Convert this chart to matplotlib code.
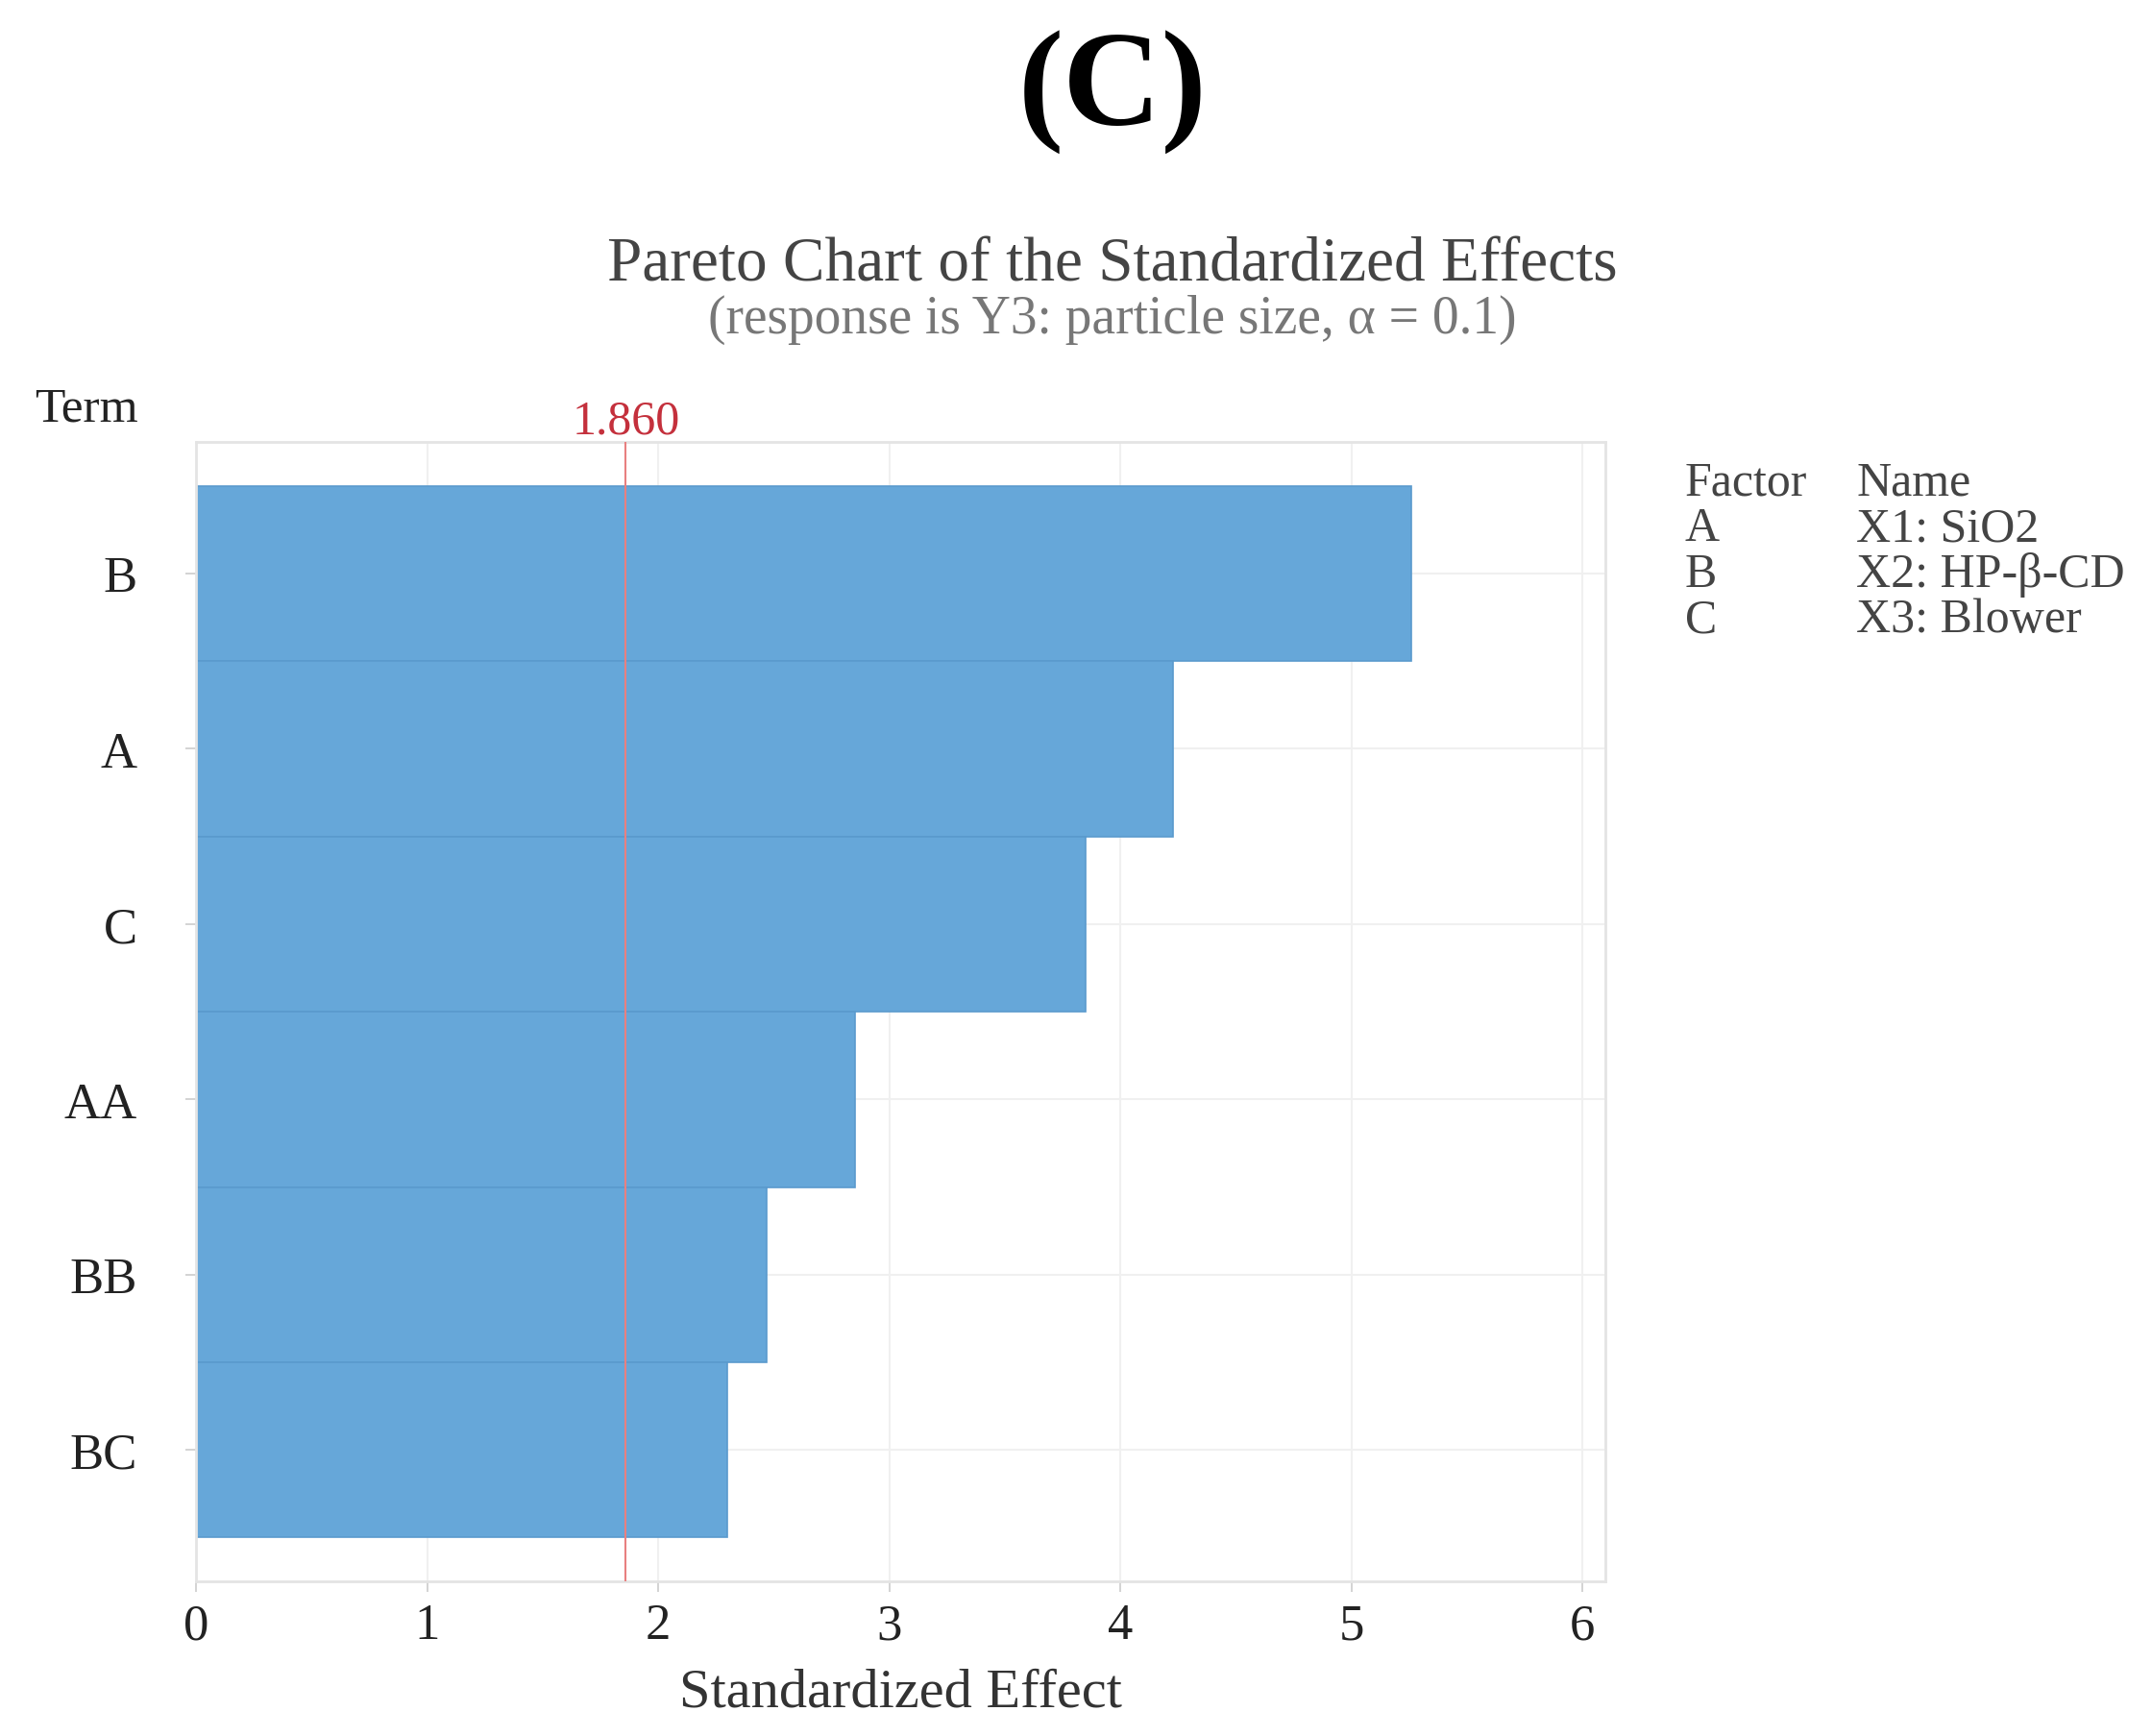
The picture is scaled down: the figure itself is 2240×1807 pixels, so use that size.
import matplotlib
matplotlib.use("Agg")
from matplotlib import pyplot as plt

terms = ["B", "A", "C", "AA", "BB", "BC"]
effects = [5.26, 4.23, 3.85, 2.85, 2.47, 2.30]
critical = 1.860
factors = ["A", "B", "C"]
factor_names = ["X1: SiO2", "X2: HP-\u03b2-CD", "X3: Blower"]
xticks = [0, 1, 2, 3, 4, 5, 6]

plt.rcParams['font.family'] = ['Liberation Serif', 'DejaVu Serif']

fig = plt.figure(figsize=(22.4, 18.08), dpi=100)
ax = fig.add_axes([0.0911, 0.089, 0.655, 0.656])

pos = list(range(len(terms)))
ax.barh(pos, effects, height=1.0, color='#66a7d9', edgecolor='#5a9acd', linewidth=1.2, zorder=2)
ax.axvline(critical, color='#e88080', linewidth=1.5, zorder=3)

ax.set_xlim(0, 6.1)
ax.set_ylim(5.75, -0.75)
ax.set_yticks(pos)
ax.set_yticklabels(terms)
ax.set_xticks(xticks)
ax.set_xticklabels([str(t) for t in xticks])
ax.tick_params(axis='both', labelsize=38, colors='#cccccc', labelcolor='#222222', length=8, width=1.2)
ax.tick_params(axis='y', pad=36)
ax.tick_params(axis='x', pad=8)
ax.grid(True, color='#f0f0f0', linewidth=1.5, zorder=0)
ax.set_axisbelow(True)
for s in ax.spines.values():
    s.set_color('#e4e4e4')
    s.set_linewidth(2)
ax.set_xlabel('Standardized Effect', fontsize=42, color='#333333', labelpad=14)

ax.text(critical, 0.999, '%.3f' % critical, transform=ax.get_xaxis_transform(),
        ha='center', va='bottom', fontsize=36, color='#c4303c')

fig.text(0.016, 0.764, 'Term', fontsize=37, color='#222222', ha='left', va='center')

fig.text(0.517, 0.947, '(C)', fontsize=102, fontweight='bold', ha='center', va='center', color='black')
fig.text(0.517, 0.847, 'Pareto Chart of the Standardized Effects', fontsize=47, ha='center', va='center', color='#444444')
fig.text(0.517, 0.816, '(response is Y3: particle size, \u03b1 = 0.1)', fontsize=40, ha='center', va='center', color='#777777')

lx1, lx2 = 0.783, 0.8625
ly = 0.7215
dy = 0.0263
fig.text(lx1, ly, 'Factor', fontsize=36, color='#444444', va='center')
fig.text(lx2, ly, 'Name', fontsize=36, color='#444444', va='center')
for i, (f, n) in enumerate(zip(factors, factor_names)):
    fig.text(lx1, ly - (i + 1) * dy, f, fontsize=36, color='#444444', va='center')
    fig.text(lx2, ly - (i + 1) * dy, n, fontsize=36, color='#444444', va='center')

fig.savefig('out.png', dpi=100, facecolor='white')
